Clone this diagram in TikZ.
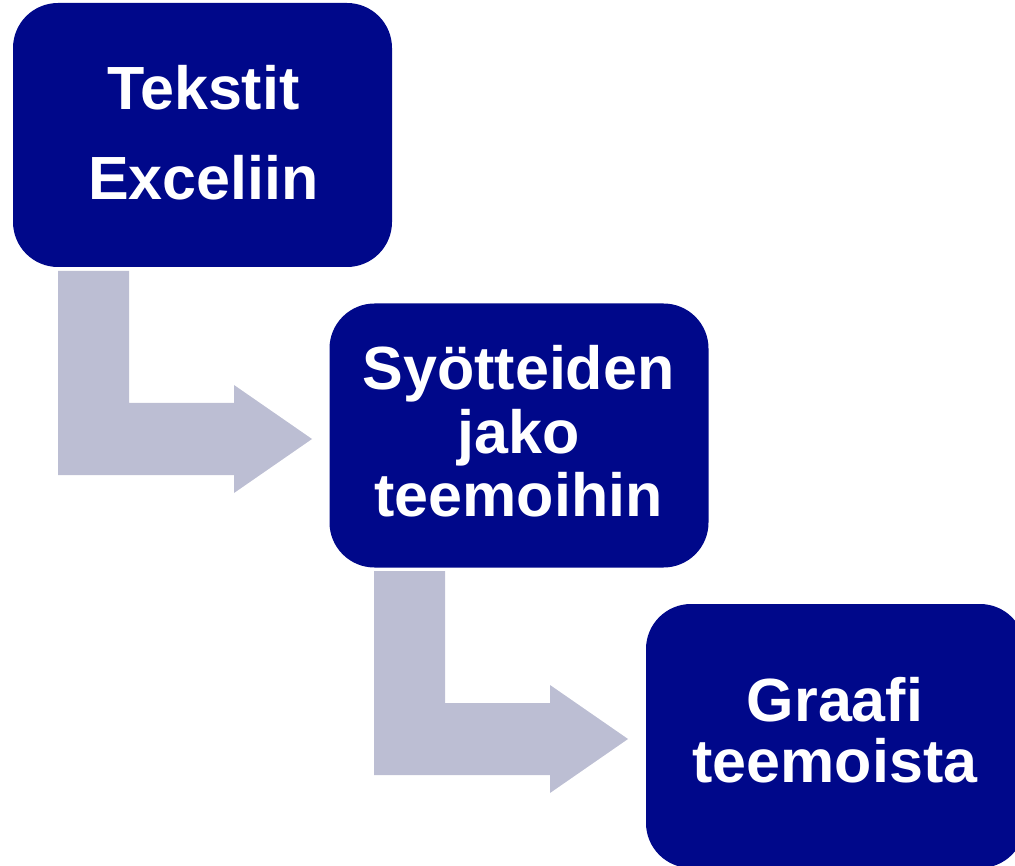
\documentclass[tikz,border=0pt]{standalone}
\usepackage{fontspec}
\setmainfont{Liberation Sans}
\begin{document}
\begin{tikzpicture}[x=1pt,y=1pt,
  stepbox/.style={fill=boxnavy, draw=none, rounded corners=45pt, minimum width=379pt, minimum height=264pt, inner sep=0pt},
  lbl/.style={text=white, align=center, inner sep=0pt, font=\bfseries\fontsize{61}{63}\selectfont},
  bentarrow/.style={fill=arrowgrey, draw=none}]
\definecolor{boxnavy}{RGB}{0,8,138}
\definecolor{arrowgrey}{RGB}{188,190,211}
\path[use as bounding box, clip] (0,0) rectangle (1015,-866);
% boxes
\node[stepbox] (b1) at (202.5,-135) {};
\node[stepbox] (b2) at (519,-435.5) {};
\node[stepbox] (b3) at (835.5,-736) {};
% arrows
\foreach \dx/\dy/\nm in {0/0/a1, 316/-300/a2}{
  \begin{scope}[shift={(\dx,\dy)}]
  \fill[bentarrow] (58,-271) -- (129,-271) -- (129,-403) -- (234,-403) -- (234,-385)
     -- (312,-439) -- (234,-493) -- (234,-475) -- (58,-475) -- cycle;
  \end{scope}
}
% labels
\node[lbl, font=\bfseries\fontsize{61}{90}\selectfont] (t1) at (203.5,-133.2) {Tekstit\\Exceliin};
\node[lbl, font=\bfseries\fontsize{61}{63.5}\selectfont] (t2) at (518.5,-431.3) {Syötteiden\\jako\\teemoihin};
\node[lbl, font=\bfseries\fontsize{61}{61}\selectfont] (t3) at (835,-730.3) {Graafi\\teemoista};
\end{tikzpicture}
\end{document}
